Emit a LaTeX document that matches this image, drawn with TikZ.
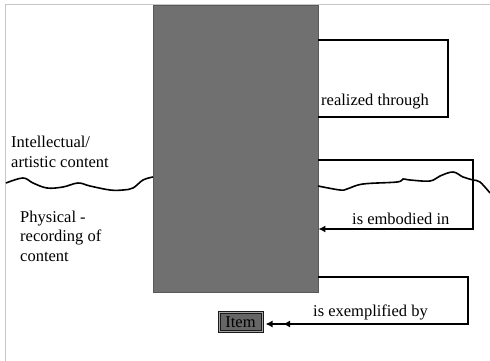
\documentclass[tikz,border=0pt]{standalone}
\usepackage{fontspec}
\setmainfont{Liberation Serif}
\usetikzlibrary{arrows.meta}

\begin{document}
\begin{tikzpicture}[x=1pt,y=-1pt,
  every node/.style={font=\fontsize{16.5}{19.5}\selectfont, inner sep=0pt},
  link/.style={draw, line width=1.5pt},
  tip/.style={-{Latex[length=7pt,width=7pt]}},
  wave/.style={draw, line width=1.6pt}]
\useasboundingbox (0,0) rectangle (490,361);
\path[draw, gray!45, line width=1pt] (5,361) -- (5,5) -- (490,5);

% the grey block and the item box
\node[fill=black!56, draw=black!65, minimum width=165pt, minimum height=287pt, anchor=north west] (block) at (153,5) {};
\node[fill=black!60, draw=black!90, line width=1pt, double=black!35, double distance=1pt, minimum width=43pt, minimum height=19pt] (item) at (240.5,322) {Item};

% corners of the loops
\coordinate (r1) at (448,40);
\coordinate (r2) at (448,117);
\coordinate (e1) at (473,160);
\coordinate (e2) at (473,229);
\coordinate (x1) at (468,277);
\coordinate (x2) at (468,324);
\coordinate (xm) at (283,324);

\path[link] (r1 -| block.east) -- (r1) -- (r2) -- (r2 -| block.east);
\path[link,tip] (e1 -| block.east) -- (e1) -- (e2) -- (e2 -| block.east);
\path[link,tip,shorten >=3pt] (x1 -| block.east) -- (x1) -- (x2) -- (x2 -| item.east);
\path[link,tip] (x2) -- (xm);

% labels
\node[anchor=base west] (realized) at (321,106) {realized through};
\node[anchor=base west] (embodied) at (352,224) {is embodied in};
\node[anchor=base west] (exemplified) at (313,316) {is exemplified by};
\node[anchor=west, align=left] (intel) at (11,152) {Intellectual/\\artistic content};
\node[anchor=west, align=left] (phys) at (20,236) {Physical -\\recording of\\content};

% the dividing line
\path[wave] plot[smooth, tension=0.6] coordinates {(6,183) (23,178) (33,183) (47,188) (63,187) (78,183) (90,186) (110,190) (123,190) (133,188) (143,180) (153,177)};
\path[wave] plot[smooth, tension=0.6] coordinates {(318,186) (340,190) (347,189) (363,184) (397,182) (403,179) (410,180) (430,181) (440,176) (453,172) (463,177) (473,180) (480,182) (490,193)};
\end{tikzpicture}
\end{document}
